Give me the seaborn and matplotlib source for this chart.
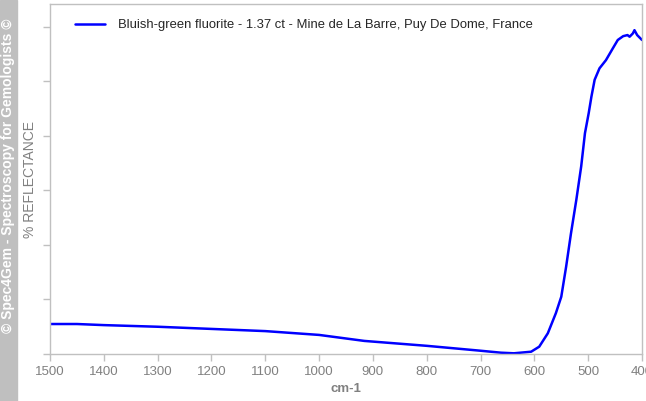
import matplotlib.pyplot as plt
import pandas as pd
import seaborn as sns

# Spectrum (wavenumber in cm-1, relative reflectance)
wavenumber = [1500, 1450, 1400, 1300, 1200, 1100, 1000, 916, 800, 700, 662, 638,
              606, 591, 575, 560, 550, 541, 532, 522, 513, 506, 499, 494, 488,
              479, 467, 454, 445, 435, 427, 423, 417, 414, 409, 400]
reflectance = [5.5, 5.5, 5.3, 5.0, 4.6, 4.2, 3.5, 2.4, 1.5, 0.6, 0.24, 0.13,
               0.42, 1.34, 3.8, 7.5, 10.5, 16.0, 22.1, 28.3, 34.4, 40.5, 44.2, 47.2, 50.3,
               52.4, 53.9, 56.1, 57.6, 58.3, 58.5, 58.2, 58.8, 59.4, 58.5, 57.6]
x_ticks = [1500, 1400, 1300, 1200, 1100, 1000, 900, 800, 700, 600, 500, 400]
y_ticks = [0, 10, 20, 30, 40, 50, 60]
label = 'Bluish-green fluorite - 1.37 ct - Mine de La Barre, Puy De Dome, France'

df = pd.DataFrame({'cm-1': wavenumber, 'refl': reflectance})

sns.set_style('white')
plt.rcParams['font.family'] = ['Liberation Sans', 'DejaVu Sans']

fig = plt.figure(figsize=(6.46, 4.01), dpi=100)
ax = fig.add_axes([50 / 646, 1 - 354 / 401, 592 / 646, 350 / 401])

sns.lineplot(data=df, x='cm-1', y='refl', color='#0000ff', linewidth=1.8,
             label=label, ax=ax)

ax.set_xlim(1500, 400)
ax.set_ylim(0, 64.2)
ax.set_xticks(x_ticks)
ax.set_yticks(y_ticks)
ax.set_yticklabels([])
ax.tick_params(axis='both', direction='out', length=5, width=1, color='#c0c0c0',
               labelcolor='#808080', labelsize=9.5, bottom=True, left=True)
for s in ax.spines.values():
    s.set_color('#c0c0c0')
    s.set_linewidth(1)

ax.set_xlabel('cm-1', color='#808080', fontsize=9.5, fontweight='bold', labelpad=4)
ax.set_ylabel('')

leg = ax.legend(loc='upper left', frameon=False, fontsize=9.4, handlelength=2.3,
                handletextpad=1.0, borderpad=0, borderaxespad=0,
                bbox_to_anchor=(25 / 592, 1 - 15 / 350))

# Y axis label and copyright strip
fig.text(30 / 646, 1 - 180 / 401, '% REFLECTANCE', rotation=90, color='#808080',
         fontsize=10, ha='center', va='center')
fig.patches.append(plt.Rectangle((0, 0), 17 / 646, 1, transform=fig.transFigure,
                                 color='#bfbfbf', zorder=0))
fig.text(8.5 / 646, 1 - 176 / 401, '© Spec4Gem - Spectroscopy for Gemologists ©',
         rotation=90, color='white', fontsize=10, fontweight='bold',
         ha='center', va='center')

plt.savefig('out.png', dpi=100)
